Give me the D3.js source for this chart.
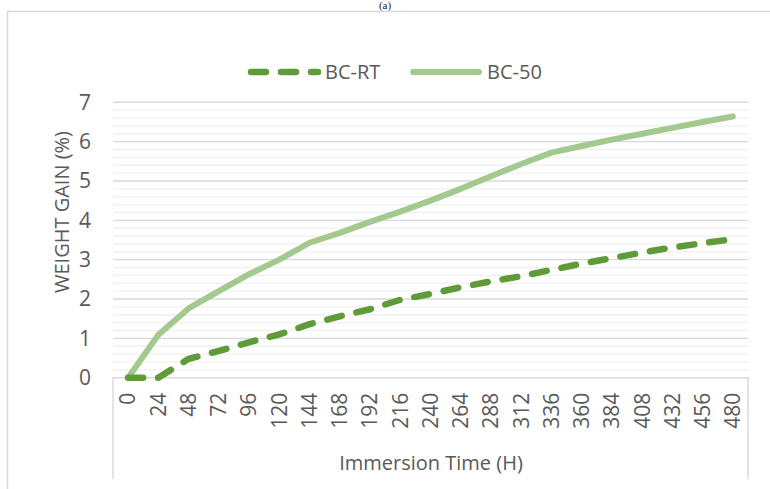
<!DOCTYPE html>
<html><head><meta charset="utf-8">
<script src="https://cdn.jsdelivr.net/npm/d3@7"></script>
<style>
html,body{margin:0;padding:0;background:#fff;}
svg{display:block;}
text{font-family:"Open Sans",sans-serif;fill:#595959;}
</style></head>
<body><svg id="c" width="770" height="489"></svg>
<script>
const categories = ["0","24","48","72","96","120","144","168","192","216","240","264","288","312","336","360","384","408","432","456","480"];
const bcRT = [0,0,0.48,0.68,0.9,1.1,1.36,1.56,1.74,1.98,2.13,2.3,2.45,2.58,2.74,2.9,3.04,3.18,3.31,3.42,3.52];
const bc50 = [0,1.09,1.76,2.2,2.63,3.0,3.43,3.68,3.96,4.22,4.5,4.8,5.12,5.43,5.72,5.89,6.05,6.2,6.35,6.5,6.64];
const yTicks = [0,1,2,3,4,5,6,7];
const seriesNames = ["BC-RT","BC-50"];

const svg = d3.select("#c");
const L = 113, R = 748, T = 102.3, B = 377.7;
const x = d3.scaleBand().domain(categories).range([L, R]).padding(0);
const y = d3.scaleLinear().domain([0, 7]).range([B, T]);
const cx = c => x(c) + x.bandwidth() / 2;

// title fragment
svg.append("text").attr("x", 385).attr("y", 9).attr("text-anchor", "middle")
  .style("font-family", "'Liberation Serif',serif").style("font-size", "11px").style("fill", "#222").text("(a)");

// outer chart border
svg.append("path").attr("d", "M7.5,489 V11.5 H770").attr("fill", "none").attr("stroke", "#d9d9d9").attr("stroke-width", 1.5);

// minor gridlines
const minor = y.ticks(35).filter(v => Math.abs(v - Math.round(v)) > 1e-6);
svg.append("g").selectAll("line").data(minor).join("line")
  .attr("x1", L).attr("x2", R).attr("y1", d => y(d)).attr("y2", d => y(d))
  .attr("stroke", "#f0f0f0").attr("stroke-width", 1.3);
// major gridlines
svg.append("g").selectAll("line").data(yTicks.filter(v => v > 0)).join("line")
  .attr("x1", L).attr("x2", R).attr("y1", d => y(d)).attr("y2", d => y(d))
  .attr("stroke", "#d9d9d9").attr("stroke-width", 1.4);

// category axis box
svg.append("path").attr("d", `M${L},479 V${B} H${R} V479`).attr("fill", "none")
  .attr("stroke", "#d9d9d9").attr("stroke-width", 1.4);

// y axis
const ya = svg.append("g").attr("transform", `translate(${L},0)`)
  .call(d3.axisLeft(y).tickValues(yTicks).tickSize(0).tickPadding(22).tickFormat(d3.format("d")));
ya.select(".domain").remove();
ya.selectAll("text").style("font-family", "'Open Sans',sans-serif").style("font-size", "21px").style("fill", "#595959");

// x axis
const xa = svg.append("g").attr("transform", `translate(0,${B})`)
  .call(d3.axisBottom(x).tickSize(0).tickPadding(0));
xa.select(".domain").remove();
xa.selectAll("text").style("font-family", "'Open Sans',sans-serif").style("font-size", "21px").style("fill", "#595959")
  .attr("text-anchor", "end").attr("dy", null).attr("y", 0)
  .attr("transform", "translate(0,15) rotate(-90)").attr("dx", 0).attr("dy", "0.35em");

// axis titles
svg.append("text").attr("transform", "translate(62,212) rotate(-90)").attr("text-anchor", "middle")
  .attr("dy", "0.35em").style("font-size", "20px").text("WEIGHT GAIN (%)");
svg.append("text").attr("x", 431).attr("y", 463).attr("text-anchor", "middle")
  .attr("dy", "0.35em").style("font-size", "20px").text("Immersion Time (H)");

// lines
const line = d3.line().x((d, i) => cx(categories[i])).y(d => y(d));
svg.append("path").datum(bc50).attr("d", line).attr("fill", "none")
  .attr("stroke", "#a3c98f").attr("stroke-width", 6).attr("stroke-linejoin", "round").attr("stroke-linecap", "round");
svg.append("path").datum(bcRT).attr("d", line).attr("fill", "none")
  .attr("stroke", "#5f9b39").attr("stroke-width", 6.5).attr("stroke-linejoin", "round").attr("stroke-linecap", "round")
  .attr("stroke-dasharray", "15 15");

// legend
const lg = svg.append("g");
lg.append("line").attr("x1", 251).attr("x2", 318).attr("y1", 72).attr("y2", 72)
  .attr("stroke", "#5f9b39").attr("stroke-width", 6.5).attr("stroke-linecap", "round").attr("stroke-dasharray", "15 15");
lg.append("text").attr("x", 325).attr("y", 72).attr("dy", "0.35em").style("font-size", "20px").text(seriesNames[0]);
lg.append("line").attr("x1", 413).attr("x2", 479).attr("y1", 72).attr("y2", 72)
  .attr("stroke", "#a3c98f").attr("stroke-width", 6).attr("stroke-linecap", "round");
lg.append("text").attr("x", 487).attr("y", 72).attr("dy", "0.35em").style("font-size", "20px").text(seriesNames[1]);
</script></body></html>
